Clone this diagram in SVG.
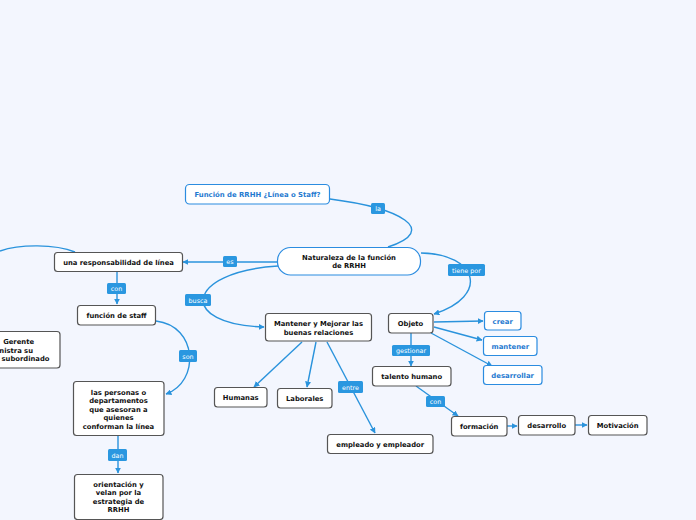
<svg xmlns="http://www.w3.org/2000/svg" width="696" height="520" viewBox="0 0 696 520">
<defs>
<marker id="ah" viewBox="0 0 10 10" refX="9" refY="5" markerWidth="6" markerHeight="6" orient="auto" markerUnits="userSpaceOnUse"><path d="M0,0 L10,5 L0,10 z" fill="#2a93dc"/></marker>
</defs>
<style>
.bg{fill:#f3f6fe}
.n{fill:#fff;stroke:#555;stroke-width:1.2}
.b{fill:#fff;stroke:#2b8ce0;stroke-width:1.2}
.t{font-family:"DejaVu Sans",Verdana,sans-serif;font-weight:bold;font-size:6.8px;fill:#111;text-anchor:middle}
.tb{font-family:"DejaVu Sans",Verdana,sans-serif;font-weight:bold;font-size:6.9px;fill:#1f7ad0;text-anchor:middle}
.c{fill:none;stroke:#2a93dc;stroke-width:1.4}
.a{marker-end:url(#ah)}
.lb{fill:#2a97e0;stroke:none}
.lt{font-family:"DejaVu Sans",Verdana,sans-serif;font-size:6.4px;fill:#fff;text-anchor:middle}
</style>
<rect class="bg" x="0" y="0" width="696" height="520"/>
<g id="connectors">
<path class="c" d="M330,199 C400,208 440,230 388,247"/>
<path class="c a" d="M277,262 L183,262"/>
<path class="c a" d="M278,266 C184,272 178,325 264,327"/>
<path class="c a" d="M421,253 C478,254 490,296 434,314"/>
<path class="c a" d="M434,322 L483,321"/>
<path class="c a" d="M434,327 L482,340"/>
<path class="c a" d="M431,333 L492,366"/>
<path class="c a" d="M411,333 L411,366"/>
<path class="c a" d="M416,386 L458,416"/>
<path class="c a" d="M507,426 L517,426"/>
<path class="c a" d="M575,425 L587,425"/>
<path class="c a" d="M302,342 L254,387"/>
<path class="c a" d="M316,342 L307,387"/>
<path class="c a" d="M327,342 L375,433"/>
<path class="c a" d="M117,272 L117,304"/>
<path class="c a" d="M156,321 C198,326 200,382 166,394"/>
<path class="c a" d="M118,436 L118,473"/>
<path class="c" d="M75,252 C55,244 20,244 0,251"/>
<rect class="lb" x="371" y="203" width="14" height="11" rx="1.5"/><text class="lt" x="378" y="211">la</text>
<rect class="lb" x="223" y="256" width="14" height="11" rx="1.5"/><text class="lt" x="230" y="264">es</text>
<rect class="lb" x="185" y="294" width="26" height="12" rx="1.5"/><text class="lt" x="198" y="302.5">busca</text>
<rect class="lb" x="448" y="264" width="37" height="12" rx="1.5"/><text class="lt" x="466.5" y="272.5">tiene por</text>
<rect class="lb" x="392" y="345" width="38" height="11" rx="1.5"/><text class="lt" x="411" y="353">gestionar</text>
<rect class="lb" x="426" y="396" width="19" height="11" rx="1.5"/><text class="lt" x="435.5" y="404">con</text>
<rect class="lb" x="338" y="381" width="25" height="12" rx="1.5"/><text class="lt" x="350.5" y="389.5">entre</text>
<rect class="lb" x="107" y="283" width="19" height="11" rx="1.5"/><text class="lt" x="116.5" y="291">con</text>
<rect class="lb" x="179" y="350" width="18" height="12" rx="1.5"/><text class="lt" x="188" y="358.5">son</text>
<rect class="lb" x="108" y="449" width="19" height="12" rx="1.5"/><text class="lt" x="117.5" y="457.5">dan</text>
</g>
<g id="n-funcion-rrhh"><rect class="b" x="185.5" y="184.5" width="144" height="19.5" rx="4"/><text class="tb" x="257.5" y="196.5">Función de RRHH ¿Línea o Staff?</text></g>
<g id="n-naturaleza"><rect class="b" x="277.5" y="247.5" width="143" height="27.5" rx="13"/><text class="t" x="349" y="259.5">Naturaleza de la función</text><text class="t" x="349" y="268">de RRHH</text></g>
<g id="n-responsabilidad"><rect class="n" x="54.5" y="252.5" width="128" height="19" rx="3"/><text class="t" x="118.5" y="264.5">una responsabilidad de línea</text></g>
<g id="n-staff"><rect class="n" x="77.5" y="305.5" width="78" height="19.5" rx="3"/><text class="t" x="116.5" y="317.5">función de staff</text></g>
<g id="n-gerente"><rect class="n" x="-10" y="331.5" width="70" height="36.5" rx="3"/><text class="t" x="34" y="344" style="text-anchor:end">Gerente</text><text class="t" x="33" y="352.5" style="text-anchor:end">nistra su</text><text class="t" x="49.5" y="361" style="text-anchor:end">subordinado</text></g>
<g id="n-personas"><rect class="n" x="73.5" y="381.5" width="90.5" height="54" rx="3"/><text class="t" x="118.5" y="394.5">las personas o</text><text class="t" x="118.5" y="403">departamentos</text><text class="t" x="118.5" y="411.5">que asesoran a</text><text class="t" x="118.5" y="420">quienes</text><text class="t" x="118.5" y="428.5">conforman la línea</text></g>
<g id="n-orientacion"><rect class="n" x="74.5" y="474.5" width="88.5" height="45" rx="3"/><text class="t" x="118.5" y="486.5">orientación y</text><text class="t" x="118.5" y="495">velan por la</text><text class="t" x="118.5" y="503.5">estrategia de</text><text class="t" x="118.5" y="512">RRHH</text></g>
<g id="n-mantener-rel"><rect class="n" x="265.5" y="313.5" width="106" height="27.5" rx="3"/><text class="t" x="318.5" y="325.5">Mantener y Mejorar las</text><text class="t" x="318.5" y="334.5">buenas relaciones</text></g>
<g id="n-objeto"><rect class="n" x="388.5" y="313.5" width="44.5" height="19.5" rx="3"/><text class="t" x="410.5" y="325.5">Objeto</text></g>
<g id="n-crear"><rect class="b" x="484.5" y="311.5" width="36.5" height="18.5" rx="3"/><text class="tb" x="502.7" y="323.5">crear</text></g>
<g id="n-mantener"><rect class="b" x="483.5" y="336.5" width="53.5" height="19" rx="3"/><text class="tb" x="510.3" y="348.5">mantener</text></g>
<g id="n-desarrollar"><rect class="b" x="483.5" y="365.5" width="58.5" height="19" rx="3"/><text class="tb" x="512.7" y="377.5">desarrollar</text></g>
<g id="n-talento"><rect class="n" x="372.5" y="366.5" width="78.5" height="19.5" rx="3"/><text class="t" x="411.7" y="378.5">talento humano</text></g>
<g id="n-humanas"><rect class="n" x="214.5" y="387.5" width="52.5" height="19.5" rx="3"/><text class="t" x="240.7" y="399.5">Humanas</text></g>
<g id="n-laborales"><rect class="n" x="277.5" y="388.5" width="54.5" height="19.5" rx="3"/><text class="t" x="304.7" y="400.5">Laborales</text></g>
<g id="n-empleado"><rect class="n" x="327.5" y="434.5" width="105.5" height="19" rx="3"/><text class="t" x="380.2" y="446.5">empleado y empleador</text></g>
<g id="n-formacion"><rect class="n" x="451.5" y="416.5" width="55.5" height="19.5" rx="3"/><text class="t" x="479.2" y="428.5">formación</text></g>
<g id="n-desarrollo"><rect class="n" x="518.5" y="415.5" width="56.5" height="19.5" rx="3"/><text class="t" x="546.7" y="427.5">desarrollo</text></g>
<g id="n-motivacion"><rect class="n" x="588.5" y="415.5" width="58.5" height="19.5" rx="3"/><text class="t" x="617.7" y="427.5">Motivación</text></g>
</svg>
